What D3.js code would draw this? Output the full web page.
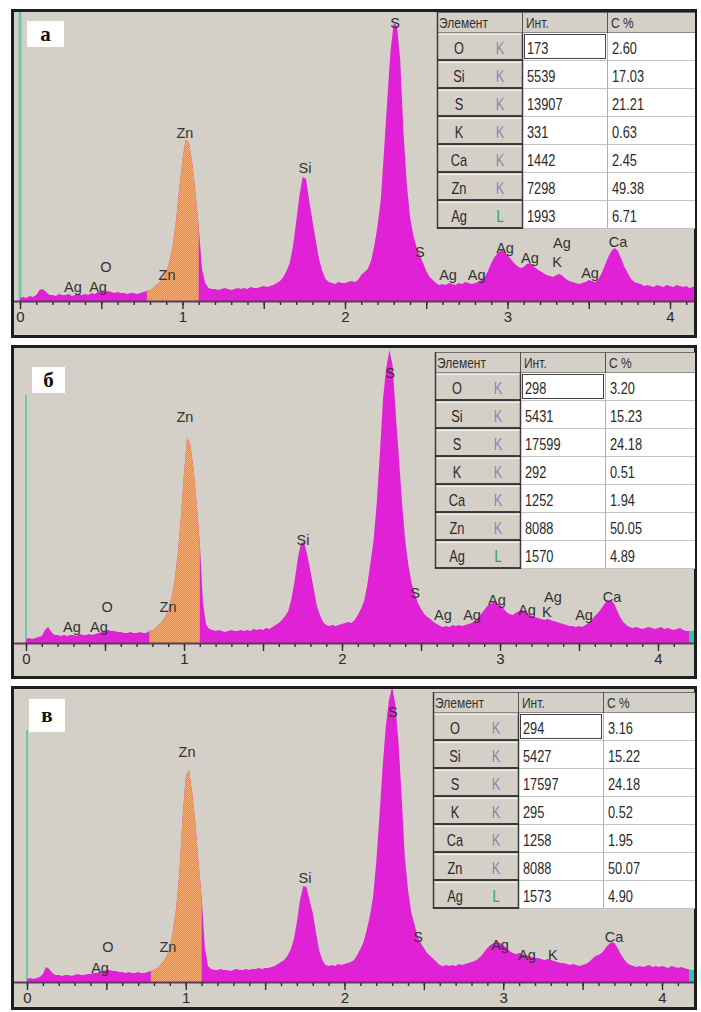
<!DOCTYPE html>
<html>
<head>
<meta charset="utf-8">
<script src="https://cdn.jsdelivr.net/npm/d3@7"></script>
<style>
  body { margin: 0; background: #fff; }
  svg { display: block; }
</style>
</head>
<body>
<svg id="chart" width="701" height="1012"></svg>
<script>
// EDS spectra of three samples (energy, keV, channel step 0.02) with quantification tables

const channelStep = 0.02;

const countsA = [
  3, 4, 3, 5, 4, 6, 11, 12, 9, 6,
  6, 5, 7, 6, 6, 7, 5, 6, 7, 6,
  7, 6, 8, 7, 9, 10, 9, 10, 9, 8,
  9, 8, 8, 7, 8, 8, 7, 8, 9, 10,
  11, 13, 16, 19, 23, 29, 40, 56, 80, 112,
  142, 162, 158, 138, 108, 74, 32, 18, 13, 12,
  12, 11, 12, 13, 12, 11, 12, 13, 12, 13,
  12, 14, 13, 13, 14, 15, 14, 15, 16, 18,
  20, 24, 30, 38, 55, 80, 106, 124, 122, 100,
  80, 61, 42, 30, 22, 19, 18, 17, 19, 18,
  18, 19, 20, 19, 21, 26, 29, 32, 40, 55,
  75, 101, 150, 201, 250, 278, 275, 240, 168, 118,
  84, 66, 54, 46, 38, 30, 24, 21, 18, 16,
  17, 16, 18, 17, 16, 18, 17, 19, 18, 17,
  18, 19, 21, 24, 30, 38, 44, 48, 51, 50,
  46, 42, 38, 35, 33, 34, 37, 38, 35, 32,
  30, 28, 26, 25, 24, 26, 27, 25, 22, 20,
  19, 18, 17, 18, 19, 21, 20, 19, 22, 28,
  36, 44, 50, 53, 50, 42, 34, 28, 22, 19,
  18, 17, 15, 16, 15, 14, 16, 15, 14, 16,
  15, 14, 16, 15, 14, 15, 13, 14, 15, 14,
  14
];

const countsB = [
  4, 5, 4, 5, 6, 7, 13, 16, 11, 8,
  8, 7, 8, 7, 8, 8, 7, 9, 8, 8,
  9, 8, 9, 10, 11, 12, 13, 12, 12, 11,
  11, 10, 10, 11, 10, 10, 11, 10, 10, 12,
  13, 15, 18, 21, 26, 33, 45, 62, 88, 125,
  170, 206, 198, 175, 140, 100, 40, 18, 14, 13,
  12, 13, 12, 11, 12, 13, 12, 12, 13, 12,
  13, 12, 14, 13, 14, 13, 15, 14, 16, 18,
  20, 23, 27, 32, 44, 62, 84, 100, 101, 88,
  72, 55, 38, 28, 21, 18, 17, 18, 17, 18,
  19, 20, 21, 20, 23, 28, 34, 42, 58, 80,
  103, 140, 190, 245, 275, 293, 278, 230, 186, 140,
  103, 78, 60, 50, 40, 34, 29, 26, 24, 21,
  19, 17, 16, 17, 16, 18, 17, 18, 17, 18,
  19, 20, 22, 25, 29, 33, 37, 39, 41, 40,
  38, 35, 31, 29, 28, 30, 32, 33, 31, 29,
  27, 26, 25, 24, 23, 24, 23, 22, 21, 20,
  19, 18, 17, 17, 16, 17, 16, 18, 20, 23,
  27, 30, 34, 39, 42, 43, 40, 33, 26, 21,
  18, 16, 15, 16, 15, 14, 15, 16, 15, 14,
  15, 16, 14, 15, 14, 13, 14, 15, 13, 12,
  12
];

const countsC = [
  3, 4, 3, 4, 5, 8, 15, 13, 9, 7,
  7, 6, 7, 7, 6, 7, 8, 7, 7, 8,
  8, 9, 9, 10, 11, 12, 12, 11, 11, 10,
  10, 9, 10, 9, 9, 10, 9, 9, 10, 11,
  12, 14, 17, 21, 26, 35, 52, 74, 110, 165,
  205, 212, 190, 160, 120, 85, 35, 16, 13, 12,
  12, 13, 12, 12, 11, 12, 13, 12, 12, 13,
  12, 13, 13, 14, 13, 14, 14, 15, 16, 18,
  20, 22, 26, 32, 42, 60, 82, 96, 95, 82,
  69, 50, 32, 22, 17, 16, 17, 16, 18, 17,
  18, 19, 20, 22, 27, 33, 40, 52, 66, 85,
  120, 165, 215, 255, 282, 295, 278, 240, 185, 125,
  92, 70, 58, 46, 39, 34, 29, 26, 23, 20,
  17, 16, 17, 16, 17, 16, 18, 17, 18, 19,
  20, 21, 23, 26, 30, 34, 37, 39, 40, 39,
  37, 34, 31, 29, 28, 29, 28, 27, 26, 25,
  24, 24, 23, 22, 23, 22, 21, 20, 19, 19,
  18, 17, 18, 17, 16, 17, 18, 20, 23, 26,
  27, 29, 33, 37, 40, 39, 34, 28, 23, 19,
  17, 16, 15, 16, 15, 16, 17, 15, 16, 15,
  16, 15, 14, 16, 15, 14, 15, 14, 13, 12,
  12
];

// Zn L region of interest (keV)
const roiWindow = [0.78, 1.10];

// Peak identification labels: [text, energy keV, counts level]
const peakLabelsA = [
  ["Zn", 1.015, 168], ["Si", 1.754, 133], ["S", 2.308, 278],
  ["O", 0.529, 34], ["Zn", 0.905, 26], ["Ag", 0.326, 14], ["Ag", 0.48, 14],
  ["S", 2.46, 49], ["Ag", 2.634, 26], ["Ag", 2.81, 26], ["Ag", 2.985, 53],
  ["Ag", 3.138, 43], ["Ag", 3.335, 58], ["K", 3.305, 39], ["Ag", 3.508, 28],
  ["Ca", 3.68, 59]
];
const peakLabelsB = [
  ["Zn", 1.006, 226], ["Si", 1.753, 103], ["S", 2.304, 270],
  ["O", 0.513, 36], ["Zn", 0.899, 36], ["Ag", 0.291, 16], ["Ag", 0.462, 16],
  ["S", 2.462, 50], ["Ag", 2.639, 28], ["Ag", 2.823, 28], ["Ag", 2.981, 43],
  ["Ag", 3.171, 33], ["Ag", 3.335, 46], ["K", 3.297, 31], ["Ag", 3.532, 28],
  ["Ca", 3.709, 46]
];
const peakLabelsC = [
  ["Zn", 1.008, 230], ["Si", 1.751, 104], ["S", 2.305, 270],
  ["O", 0.51, 35], ["Zn", 0.888, 35], ["Ag", 0.46, 14],
  ["S", 2.463, 45], ["Ag", 2.98, 37], ["Ag", 3.15, 27], ["K", 3.313, 27],
  ["Ca", 3.698, 45]
];

// Quantification tables
const tableHeader = ["Элемент", "Инт.", "C %"];
const tableElements = ["O", "Si", "S", "K", "Ca", "Zn", "Ag"];
const tableLines = ["K", "K", "K", "K", "K", "K", "L"];
const intensityA = [173, 5539, 13907, 331, 1442, 7298, 1993];
const concA = [2.60, 17.03, 21.21, 0.63, 2.45, 49.38, 6.71];
const intensityB = [298, 5431, 17599, 292, 1252, 8088, 1570];
const concB = [3.20, 15.23, 24.18, 0.51, 1.94, 50.05, 4.89];
const intensityC = [294, 5427, 17597, 295, 1258, 8088, 1573];
const concC = [3.16, 15.22, 24.18, 0.52, 1.95, 50.07, 4.90];

const panelLetters = ["а", "б", "в"];
const energyTicks = [0, 1, 2, 3, 4];

// Cursor marker height at 0 keV (counts level)
const markerLevels = [292, 248, 252];

// ---- layout ----
const panels = [
  { frame: [9, 338], base: 301, xr: [20, 670], box: [27, 21, 37, 26], table: [437, 12], markerW: 3, endMark: false },
  { frame: [345, 679], base: 643, xr: [26, 658], box: [32, 367, 33, 26], table: [435, 352], markerW: 2, endMark: true },
  { frame: [686, 1010], base: 982, xr: [27, 662], box: [29, 699, 36, 33], table: [433, 692], markerW: 2, endMark: true }
];
const seriesCounts = [countsA, countsB, countsC];
const seriesLabels = [peakLabelsA, peakLabelsB, peakLabelsC];
const seriesInt = [intensityA, intensityB, intensityC];
const seriesConc = [concA, concB, concC];

const COL_BG = "#d4d0c8";
const COL_SPEC = "#e021d6";
const COL_MARK = "#6cc8a8";
const LEFT = 11, RIGHT = 697;
const sansFont = "'Liberation Sans', Arial, sans-serif";
const NARROW = 0.8; // horizontal squeeze of the table typeface

const svg = d3.select("#chart");
const defs = svg.append("defs");

// dotted orange fill of the region of interest
const pat = defs.append("pattern")
  .attr("id", "roiFill").attr("width", 2).attr("height", 2)
  .attr("patternUnits", "userSpaceOnUse");
pat.append("rect").attr("width", 2).attr("height", 2).attr("fill", "#ef8a3e");
pat.append("rect").attr("x", 0).attr("y", 0).attr("width", 1).attr("height", 1).attr("fill", "#f8ae72");
pat.append("rect").attr("x", 1).attr("y", 1).attr("width", 1).attr("height", 1).attr("fill", "#f8ae72");

// condensed table text
function narrowText(parent, tx, ty, str, opts = {}) {
  return parent.append("text")
    .attr("transform", `translate(${tx},${ty}) scale(${NARROW},1)`)
    .attr("dy", "0.36em")
    .attr("text-anchor", opts.anchor || "start")
    .attr("font-family", sansFont)
    .attr("font-size", opts.size || 16)
    .attr("fill", opts.fill || "#2a2a2a")
    .text(str);
}

panels.forEach((p, k) => {
  const counts = seriesCounts[k];
  const g = svg.append("g");
  const [top, bottom] = p.frame;

  // window frame
  g.append("rect")
    .attr("x", LEFT + 1.5).attr("y", top + 1.5)
    .attr("width", RIGHT - LEFT - 3).attr("height", bottom - top - 3)
    .attr("fill", COL_BG).attr("stroke", "#1e1e1e").attr("stroke-width", 3);

  const x = d3.scaleLinear().domain([0, 4]).range(p.xr);
  const y = d3.scaleLinear().domain([0, 300]).range([p.base, p.base - 300]);

  const clipId = "plotClip" + k;
  defs.append("clipPath").attr("id", clipId).append("rect")
    .attr("x", LEFT + 3).attr("y", top + 3)
    .attr("width", RIGHT - LEFT - 6).attr("height", p.base - top - 3);

  const roiId = "roiClip" + k;
  defs.append("clipPath").attr("id", roiId).append("rect")
    .attr("x", x(roiWindow[0])).attr("y", top + 3)
    .attr("width", x(roiWindow[1]) - x(roiWindow[0])).attr("height", p.base - top - 3);

  const area = d3.area()
    .x((d, i) => x(i * channelStep))
    .y0(y(0))
    .y1(d => y(d));

  const plot = g.append("g").attr("clip-path", `url(#${clipId})`);

  // cursor marker at zero energy
  plot.append("line")
    .attr("x1", x(0)).attr("x2", x(0))
    .attr("y1", y(markerLevels[k])).attr("y2", p.base)
    .attr("stroke", COL_MARK).attr("stroke-width", p.markerW);

  plot.append("path").datum(counts).attr("d", area).attr("fill", COL_SPEC);
  plot.append("g").attr("clip-path", `url(#${roiId})`)
    .append("path").datum(counts).attr("d", area).attr("fill", "url(#roiFill)");

  if (p.endMark) {
    plot.append("rect")
      .attr("x", RIGHT - 8).attr("y", y(12)).attr("width", 5).attr("height", p.base - y(12))
      .attr("fill", "#2fc7a0");
  }

  // energy axis
  g.append("line")
    .attr("x1", LEFT + 3).attr("x2", RIGHT - 3)
    .attr("y1", p.base + 0.5).attr("y2", p.base + 0.5)
    .attr("stroke", "#5b3a5b").attr("stroke-width", 2);

  const minorAxis = d3.axisBottom(x)
    .tickValues(d3.range(0, 42).map(i => i / 10))
    .tickSize(3).tickFormat("");
  const majorAxis = d3.axisBottom(x)
    .tickValues(d3.range(0, 9).map(i => i / 2))
    .tickSize(7).tickPadding(2)
    .tickFormat(d => energyTicks.includes(d) ? String(d) : "");

  const ax1 = g.append("g").attr("transform", `translate(0,${p.base + 1})`).call(minorAxis);
  const ax2 = g.append("g").attr("transform", `translate(0,${p.base + 1})`).call(majorAxis);
  [ax1, ax2].forEach(a => {
    a.select(".domain").remove();
    a.selectAll(".tick line").attr("stroke", "#2e2e2e").attr("stroke-width", 1.4);
  });
  ax2.selectAll(".tick text")
    .attr("fill", "#2a2a2a").attr("font-size", 15)
    .attr("font-family", sansFont);

  // peak labels
  g.append("g").selectAll("text").data(seriesLabels[k]).join("text")
    .attr("x", d => x(d[1])).attr("y", d => y(d[2]))
    .attr("dy", "0.36em").attr("text-anchor", "middle")
    .attr("font-family", sansFont)
    .attr("font-size", 14.5).attr("fill", "#333")
    .text(d => d[0]);

  // panel letter
  const [bx, by, bw, bh] = p.box;
  g.append("rect").attr("x", bx).attr("y", by).attr("width", bw).attr("height", bh).attr("fill", "#fff");
  g.append("text")
    .attr("x", bx + bw / 2).attr("y", by + bh / 2).attr("dy", "0.33em")
    .attr("text-anchor", "middle")
    .attr("font-family", "'Liberation Serif', 'Times New Roman', serif")
    .attr("font-weight", "bold").attr("font-size", 21).attr("fill", "#111")
    .text(panelLetters[k]);

  drawTable(g, p.table[0], p.table[1], RIGHT - 2, seriesInt[k], seriesConc[k]);
});

function drawTable(g, left, top, right, intens, conc) {
  const hH = 21, rH = 28;
  const c2 = left + 86, c3 = left + 171;
  const t = g.append("g");
  const bottom = top + hH + rH * tableElements.length;

  // header
  t.append("rect").attr("x", left).attr("y", top).attr("width", right - left).attr("height", hH)
    .attr("fill", COL_BG);
  t.append("line").attr("x1", left).attr("x2", right).attr("y1", top + 0.5).attr("y2", top + 0.5)
    .attr("stroke", "#6a6a6a");
  t.append("line").attr("x1", left).attr("x2", right).attr("y1", top + hH - 0.5).attr("y2", top + hH - 0.5)
    .attr("stroke", "#8a8a8a");
  [c2, c3].forEach(cx => t.append("line")
    .attr("x1", cx - 0.5).attr("x2", cx - 0.5).attr("y1", top).attr("y2", top + hH)
    .attr("stroke", "#555"));
  const hx = [left + 2, c2 + 3, c3 + 3];
  tableHeader.forEach((h, i) => narrowText(t, hx[i], top + hH / 2, h, { size: 15, fill: "#333" }));

  // value cells
  t.append("rect").attr("x", c2).attr("y", top + hH).attr("width", right - c2)
    .attr("height", rH * tableElements.length).attr("fill", "#fff");

  tableElements.forEach((el, i) => {
    const ry = top + hH + i * rH;
    const cy = ry + rH / 2 + 1;
    // element button
    t.append("rect").attr("x", left).attr("y", ry).attr("width", c2 - left).attr("height", rH)
      .attr("fill", COL_BG);
    t.append("line").attr("x1", left + 1).attr("x2", c2 - 1).attr("y1", ry + 1.5).attr("y2", ry + 1.5)
      .attr("stroke", "#f4f2ee");
    t.append("line").attr("x1", left).attr("x2", c2).attr("y1", ry + rH - 1).attr("y2", ry + rH - 1)
      .attr("stroke", "#3c3c3c").attr("stroke-width", 2);
    narrowText(t, left + 22, cy, el, { anchor: "middle" });
    narrowText(t, left + 63, cy, tableLines[i], {
      anchor: "middle", fill: tableLines[i] === "L" ? "#3a9a4a" : "#8c84b4"
    });

    // cell grid and values
    t.append("line").attr("x1", c2).attr("x2", right).attr("y1", ry + rH - 0.5).attr("y2", ry + rH - 0.5)
      .attr("stroke", "#c4c4c4");
    narrowText(t, c2 + 4, cy, intens[i]);
    narrowText(t, c3 + 4, cy, d3.format(".2f")(conc[i]));
  });

  t.append("line").attr("x1", c3 - 0.5).attr("x2", c3 - 0.5).attr("y1", top + hH).attr("y2", bottom)
    .attr("stroke", "#b0b0b0");
  // focused cell
  t.append("rect").attr("x", c2 + 1.5).attr("y", top + hH + 1.5).attr("width", c3 - c2 - 4)
    .attr("height", rH - 4).attr("fill", "none").attr("stroke", "#444");
  // borders of the element column
  t.append("line").attr("x1", left + 0.5).attr("x2", left + 0.5).attr("y1", top).attr("y2", bottom)
    .attr("stroke", "#3a3a3a").attr("stroke-width", 1.5);
  t.append("line").attr("x1", c2 - 0.5).attr("x2", c2 - 0.5).attr("y1", top + hH).attr("y2", bottom)
    .attr("stroke", "#3a3a3a").attr("stroke-width", 1.5);
}
</script>
</body>
</html>
